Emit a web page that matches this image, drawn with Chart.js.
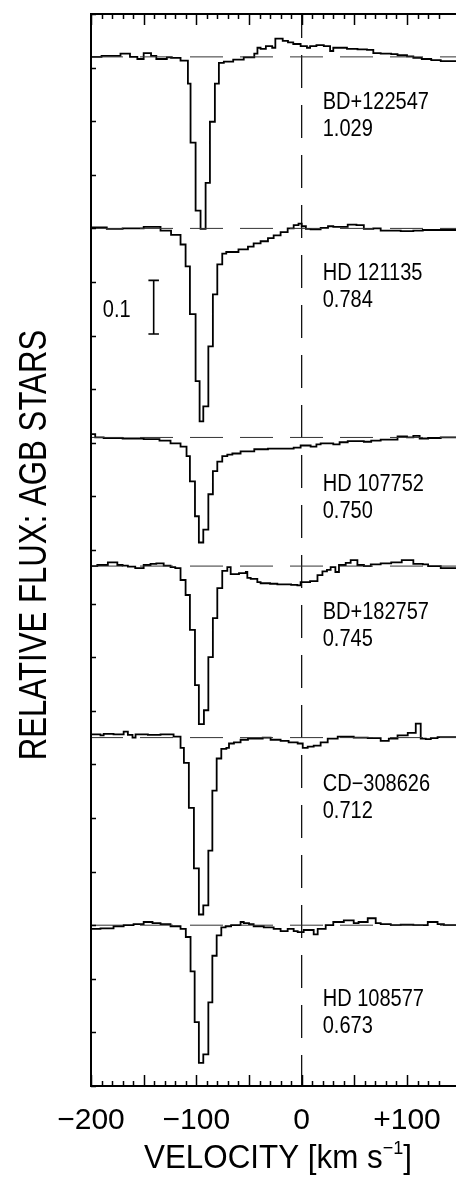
<!DOCTYPE html>
<html>
<head>
<meta charset="utf-8">
<script src="https://cdn.jsdelivr.net/npm/chart.js@4.4.0/dist/chart.umd.min.js"></script>
<style>
html,body{margin:0;padding:0;background:#fff}
#wrap{width:456px;height:1184px}
</style>
</head>
<body>
<div id="wrap"><canvas id="spec" width="456" height="1184"></canvas></div>
<script>
'use strict';
// Stacked interstellar absorption profiles toward six AGB stars, velocity vs relative flux

var STAR_NAMES = ['BD+122547', 'HD 121135', 'HD 107752', 'BD+182757', 'CD\u2212308626', 'HD 108577'];
var STAR_VALUES = ['1.029', '0.784', '0.750', '0.745', '0.712', '0.673'];
// vertical shift of each normalised spectrum (continuum level on the plot)
var OFFSETS = [1.92, 1.60, 1.21, 0.97, 0.65, 0.30];

// bin start velocities (km/s) and normalised flux, one pair of arrays per star
var VEL_1  = [-200,-190,-172,-163,-156,-150,-143,-138,-128,-124,-115,-108,-105.5,-100.7,-96,-91.2,-87.1,-82.4,-78.6,-73.9,-65,-55,-45,-42,-39,-34,-28,-25,-18,-13,-8,-1,5,8,14,21,27,30,34,43,53,62,68,75,85,91,100,106,114,123,132,140,147.3];
var FLUX_1 = [0.998,1.000,1.002,1.006,1.000,0.996,1.007,1.002,0.996,0.999,0.998,0.993,0.950,0.840,0.713,0.679,0.765,0.879,0.950,0.989,0.991,0.995,0.999,1.006,1.017,1.015,1.020,1.017,1.034,1.030,1.027,1.024,1.020,1.017,1.020,1.022,1.020,1.011,1.017,1.017,1.015,1.014,1.013,1.007,1.006,1.005,1.003,1.001,0.998,0.996,0.994,0.992,0.992];

var VEL_2  = [-200,-185,-170,-150,-134,-124,-115,-110.2,-106.1,-100.7,-96.9,-93.4,-88.6,-84.3,-80.1,-75.4,-71.6,-60,-51,-45.6,-39,-32,-26.6,-20,-13.3,-7.6,-3,0,4,8.5,18,25,30,43.7,52,59,68,75,81.7,94,106,115,122.6,135,147.3];
var FLUX_2 = [1.000,1.002,0.999,1.000,1.003,0.996,0.988,0.970,0.929,0.840,0.715,0.640,0.668,0.780,0.877,0.933,0.953,0.956,0.961,0.966,0.972,0.976,0.982,0.987,0.993,1.000,1.006,1.009,1.004,0.999,0.998,1.001,1.004,1.003,1.007,1.006,0.999,1.000,0.996,0.996,0.995,0.996,0.997,0.997,0.997];

var VEL_3  = [-200,-196,-188,-170,-150,-135,-124.5,-115,-109.3,-106.1,-101.3,-97.6,-93.4,-88.6,-84.3,-80.1,-75.4,-70.6,-65.8,-58,-45,-32,-20,-7.6,-1,8.5,14,18,30,36,43.7,59,66,75,91,100,106,112,120,132,140,147.3];
var FLUX_3 = [1.002,1.006,1.000,0.999,0.998,0.997,0.994,0.989,0.983,0.965,0.918,0.853,0.804,0.828,0.894,0.937,0.955,0.965,0.968,0.970,0.974,0.978,0.979,0.979,0.981,0.985,0.983,0.987,0.989,0.987,0.991,0.993,0.992,0.994,0.996,1.002,1.000,1.003,0.998,0.999,1.000,1.000];

var VEL_4  = [-200,-194,-184,-175,-170,-165,-158,-150,-143.5,-138,-131,-124.5,-120,-115,-110.2,-106.1,-101.3,-97.6,-92.8,-88.6,-84.3,-80.1,-75.4,-70.6,-67.4,-64.3,-59.5,-53,-51.6,-48.4,-42.1,-39,-30,-23.1,-10,-4.1,-1,8,15,19.7,24,27.5,32,35.4,41.8,46.5,52.9,59.1,65.6,75,85,95,106,115,120,132,141,147.3];
var FLUX_4 = [0.996,1.000,1.002,1.007,1.002,1.001,0.999,0.996,1.002,1.004,1.005,1.001,0.998,0.996,0.974,0.946,0.881,0.778,0.705,0.731,0.830,0.903,0.959,0.991,0.998,0.985,0.985,0.987,0.989,0.978,0.976,0.970,0.968,0.967,0.966,0.965,0.964,0.970,0.972,0.983,0.990,0.993,0.998,0.989,1.002,1.006,1.011,1.002,1.000,1.003,1.005,1.007,1.011,1.004,1.003,1.000,0.996,0.996];

var VEL_5  = [-200,-191,-188,-178.6,-169,-165,-160.6,-157.7,-146,-134,-121.6,-115,-111.8,-107.1,-102.3,-97.6,-93.4,-88.6,-84.8,-80.7,-76.3,-71.5,-69,-64.3,-58,-51,-45.6,-37,-29.5,-20,-12.4,-3.8,1,5.7,11.4,18,24.7,34.2,40,49.4,62.7,75,82.7,91,100.7,108.3,113,117.8,122.6,129,138.7,147.3];
var FLUX_5 = [1.007,1.006,1.004,1.007,1.006,1.011,1.005,1.000,1.006,1.005,1.006,1.002,0.981,0.953,0.869,0.756,0.670,0.687,0.789,0.901,0.961,0.979,0.981,0.989,0.991,0.996,0.998,0.998,1.000,0.996,0.994,0.991,0.989,0.981,0.983,0.985,0.991,0.998,1.002,1.002,1.000,0.999,0.994,0.998,1.004,1.009,1.026,0.998,0.997,0.999,1.001,1.001];

var VEL_6  = [-200,-191,-178.6,-169,-159.6,-150,-141.6,-134,-124.5,-115,-110,-105.5,-101.6,-97.6,-93.4,-88.6,-84.8,-80.7,-76.3,-72.2,-67,-58,-55,-50,-45.6,-36,-26.6,-20,-13.3,-7.6,-3.8,1.9,8,11.4,15.2,22.8,30,40,49.4,54,62.7,70.3,75,84.6,94,106,119.7,129,135,144,147.3];
var FLUX_6 = [0.998,0.993,0.994,0.998,1.000,1.002,1.006,1.004,1.002,0.998,0.993,0.978,0.914,0.819,0.743,0.759,0.856,0.943,0.981,0.996,0.998,1.000,1.006,1.004,1.002,0.998,0.996,0.993,0.989,0.993,0.989,0.987,0.991,0.991,0.983,0.993,1.000,1.006,1.009,1.004,1.006,1.013,1.004,1.002,1.000,1.001,1.000,1.006,1.002,1.000,1.000];

var VELS = [VEL_1, VEL_2, VEL_3, VEL_4, VEL_5, VEL_6];
var FLUXES = [FLUX_1, FLUX_2, FLUX_3, FLUX_4, FLUX_5, FLUX_6];

var X_MIN = -200, X_MAX = 146.5;
var Y_MIN = 0, Y_MAX = 2.0;
var X_LABEL_STEP = 100;

// 0.1 flux scale bar
var BAR_VEL = -140.5, BAR_Y0 = 1.403, BAR_LEN = 0.1, BAR_LABEL = '0.1';

// label anchors: velocity of left edge, flux level of the name baseline
var LABEL_VEL = 20;
var LABEL_Y = [1.823, 1.504, 1.110, 0.871, 0.550, 0.149];

var FONT = '"Liberation Sans", Arial, Helvetica, sans-serif';

(function () {
    function fmtTick(v)
    {
        if (v % X_LABEL_STEP !== 0) {
            return ''; }
        if (v === 0) {
            return '0'; }
        return v > 0 ? '+' + v : '\u2212' + Math.abs(v);
    }

    function text(ctx, str, x, y, size, sx, align)
    {
        ctx.save();
        ctx.font = size + 'px ' + FONT;
        ctx.translate(x, y);
        ctx.scale(sx, 1);
        ctx.textAlign = align || 'left';
        ctx.textBaseline = 'alphabetic';
        ctx.fillStyle = '#000';
        ctx.fillText(str, 0, 0);
        ctx.restore();
    }

    function datasets()
    {
        var out = [];
        OFFSETS.forEach(function (off) {
            out.push({
                data: [{ x: X_MIN, y: off }, { x: X_MAX + 5, y: off }],
                borderColor: '#333',
                borderWidth: 1,
                borderDash: [33, 17],
                borderDashOffset: 1,
                pointRadius: 0
            });
        });
        out.push({
            data: [{ x: 0, y: Y_MAX }, { x: 0, y: Y_MIN }],
            borderColor: '#000',
            borderWidth: 1.2,
            borderDash: [33, 17],
            borderDashOffset: 9,
            pointRadius: 0
        });
        var c = 5;
        var y1 = BAR_Y0 + BAR_LEN;
        out.push({
            data: [{ x: BAR_VEL - c, y: BAR_Y0 }, { x: BAR_VEL + c, y: BAR_Y0 }, { x: BAR_VEL, y: BAR_Y0 },
                   { x: BAR_VEL, y: y1 }, { x: BAR_VEL - c, y: y1 }, { x: BAR_VEL + c, y: y1 }],
            borderColor: '#000',
            borderWidth: 1.6,
            pointRadius: 0
        });
        VELS.forEach(function (vel, k) {
            var fl = FLUXES[k];
            out.push({
                data: vel.map(function (v, i) {
                    return { x: v, y: OFFSETS[k] + fl[i] - 1 }; }),
                borderColor: '#000',
                borderWidth: 1.8,
                stepped: 'after',
                pointRadius: 0
            });
        });
        return out;
    }

    // frame plus inward tick marks on top, bottom and left sides
    var frame = {
        id: 'frame',
        afterDatasetsDraw: function (chart)
        {
            var ctx = chart.ctx, a = chart.chartArea;
            var xs = chart.scales.x, ys = chart.scales.y;
            ctx.save();
            ctx.strokeStyle = '#000';
            ctx.lineWidth = 2;
            ctx.beginPath();
            ctx.moveTo(a.right + 2, a.top);
            ctx.lineTo(a.left, a.top);
            ctx.lineTo(a.left, a.bottom);
            ctx.lineTo(a.right + 2, a.bottom);
            ctx.stroke();
            ctx.lineWidth = 1.5;
            ctx.beginPath();
            xs.ticks.forEach(function (t) {
                var v = Math.round(t.value * 1000) / 1000;
                if (Math.abs(v % 10) > 1e-6) {
                    return; }
                var px = Math.round(xs.getPixelForValue(v)) + 0.5;
                var len = (v % 50 === 0) ? 11 : 5;
                ctx.moveTo(px, a.top);
                ctx.lineTo(px, a.top + len);
                ctx.moveTo(px, a.bottom);
                ctx.lineTo(px, a.bottom - len);
            });
            ys.ticks.forEach(function (t) {
                var py = Math.round(ys.getPixelForValue(t.value)) + 0.5;
                ctx.moveTo(a.left, py);
                ctx.lineTo(a.left + 5, py);
            });
            ctx.stroke();
            ctx.restore();
        }
    };

    var labels = {
        id: 'labels',
        afterDraw: function (chart)
        {
            var ctx = chart.ctx;
            var xs = chart.scales.x, ys = chart.scales.y;
            var lx = xs.getPixelForValue(LABEL_VEL);
            STAR_NAMES.forEach(function (name, i) {
                var py = ys.getPixelForValue(LABEL_Y[i]);
                text(ctx, name, lx, py, 23, 0.87);
                text(ctx, STAR_VALUES[i], lx, py + 27, 23, 0.87);
            });
            // scale bar label
            var bx = xs.getPixelForValue(BAR_VEL);
            var by = ys.getPixelForValue(BAR_Y0 + BAR_LEN / 2);
            text(ctx, BAR_LABEL, bx - 23, by + 10, 23, 0.87, 'right');

            // x axis title with superscript
            ctx.save();
            var big = '33px ' + FONT, small = '19px ' + FONT;
            var s1 = 'VELOCITY [km s', s2 = '\u22121', s3 = ']';
            ctx.font = big;
            var w1 = ctx.measureText(s1).width * 0.95, w3 = ctx.measureText(s3).width * 0.95;
            ctx.font = small;
            var w2 = ctx.measureText(s2).width * 0.95;
            var x0 = 278 - (w1 + w2 + w3) / 2, yb = 1168;
            ctx.restore();
            text(ctx, s1, x0, yb, 33, 0.95);
            text(ctx, s2, x0 + w1, yb - 14, 19, 0.95);
            text(ctx, s3, x0 + w1 + w2, yb, 33, 0.95);

            // y axis title
            ctx.save();
            ctx.translate(35, 545);
            ctx.rotate(-Math.PI / 2);
            ctx.scale(0.8, 1);
            ctx.font = '39px ' + FONT;
            ctx.textAlign = 'center';
            ctx.textBaseline = 'middle';
            ctx.fillStyle = '#000';
            ctx.fillText('RELATIVE FLUX: AGB STARS', 0, 0);
            ctx.restore();
        }
    };

    function init()
    {
        var el = document.getElementById('spec');
        new Chart(el.getContext('2d'), {
            type: 'line',
            data: { datasets: datasets() },
            options: {
                responsive: false,
                animation: false,
                layout: { padding: { top: 14, right: 0, left: 0, bottom: 0 } },
                plugins: { legend: { display: false }, tooltip: { enabled: false } },
                scales: {
                    x: {
                        type: 'linear',
                        min: X_MIN,
                        max: X_MAX,
                        grid: { display: false, drawTicks: false },
                        border: { display: false },
                        ticks: {
                            stepSize: 10,
                            autoSkip: false,
                            maxRotation: 0,
                            padding: 17,
                            color: '#000',
                            font: { family: FONT, size: 30 },
                            callback: fmtTick
                        },
                        afterFit: function (s) {
                            s.height = 98;
                            s.paddingLeft = 0;
                            s.paddingRight = 0; }
                    },
                    y: {
                        type: 'linear',
                        min: Y_MIN,
                        max: Y_MAX,
                        grid: { display: false, drawTicks: false },
                        border: { display: false },
                        ticks: { display: false, stepSize: 0.1 },
                        afterFit: function (s) {
                            s.width = 91;
                            s.paddingTop = 0;
                            s.paddingBottom = 0; }
                    }
                }
            },
            plugins: [frame, labels]
        });
    }

    if (document.readyState === 'loading') {
        document.addEventListener('DOMContentLoaded', init); } else {
        init();
        }
})();
</script>
</body>
</html>
